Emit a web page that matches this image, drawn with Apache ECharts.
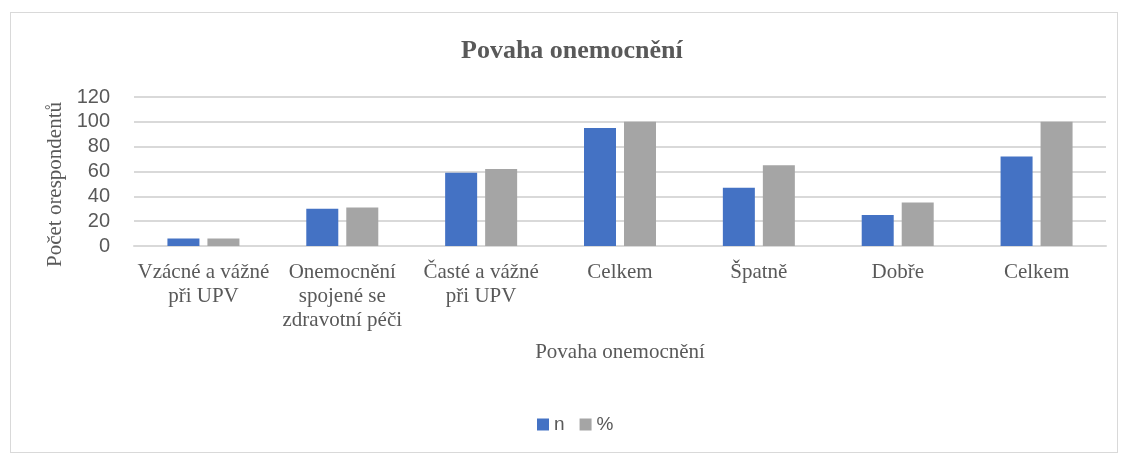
<!DOCTYPE html>
<html>
<head>
<meta charset="utf-8">
<script src="https://cdn.jsdelivr.net/npm/echarts@6/dist/echarts.min.js"></script>
<style>
  html, body { margin: 0; padding: 0; background: #fff; }
  #chart {
    position: absolute;
    left: 10px; top: 12px;
    width: 1108px; height: 441px;
    border: 1px solid #d9d9d9;
    box-sizing: border-box;
  }
</style>
</head>
<body>
<div id="chart"></div>
<script>
const categories = [
  "Vzácné a vážné\npři UPV",
  "Onemocnění\nspojené se\nzdravotní péči",
  "Časté a vážné\npři UPV",
  "Celkem",
  "Špatně",
  "Dobře",
  "Celkem"
];
const nValues = [6, 30, 59, 95, 47, 25, 72];
const pctValues = [6, 31, 62, 100, 65, 35, 100];
const yTicks = { min: 0, max: 120, interval: 20 };

const chart = echarts.init(document.getElementById("chart"));
const option = {
  animation: false,
  title: {
    text: "Povaha onemocnění",
    left: 445,
    top: 20,
    textStyle: { fontFamily: "Liberation Serif", fontSize: 26, fontWeight: "bold", color: "#595959" }
  },
  legend: {
    data: ["n", "%"],
    top: 397,
    left: 521,
    itemWidth: 12,
    itemHeight: 12,
    itemGap: 15,
    icon: "rect",
    textStyle: { fontFamily: "Liberation Sans", fontSize: 19, color: "#595959" }
  },
  grid: { left: 123, right: 11, top: 84, bottom: 206, containLabel: false },
  xAxis: {
    type: "category",
    data: categories,
    name: "Povaha onemocnění",
    nameLocation: "middle",
    nameGap: 96,
    nameTextStyle: { fontFamily: "Liberation Serif", fontSize: 21, color: "#595959" },
    axisLine: { lineStyle: { color: "#d9d9d9", width: 2 } },
    axisTick: { show: false },
    axisLabel: {
      interval: 0,
      fontFamily: "Liberation Serif",
      fontSize: 21,
      color: "#595959",
      lineHeight: 24,
      margin: 14
    }
  },
  yAxis: {
    type: "value",
    min: yTicks.min,
    max: yTicks.max,
    interval: yTicks.interval,
    name: "Počet orespondentů",
    nameLocation: "middle",
    nameGap: 60,
    nameTextStyle: { fontFamily: "Liberation Serif", fontSize: 21, color: "#595959", padding: [0, 26, 0, 0] },
    axisLine: { show: false },
    axisTick: { show: false },
    axisLabel: { fontFamily: "Liberation Sans", fontSize: 20, color: "#595959", margin: 24 },
    splitLine: { lineStyle: { color: "#d9d9d9", width: 2 } }
  },
  series: [
    {
      name: "n",
      type: "bar",
      data: nValues,
      barWidth: 32,
      barGap: "25%",
      itemStyle: { color: "#4472c4" }
    },
    {
      name: "%",
      type: "bar",
      data: pctValues,
      barWidth: 32,
      itemStyle: { color: "#a5a5a5" }
    }
  ]
};
chart.setOption(option);
window.onresize = function () {
  chart.resize();
};
</script>
</body>
</html>
